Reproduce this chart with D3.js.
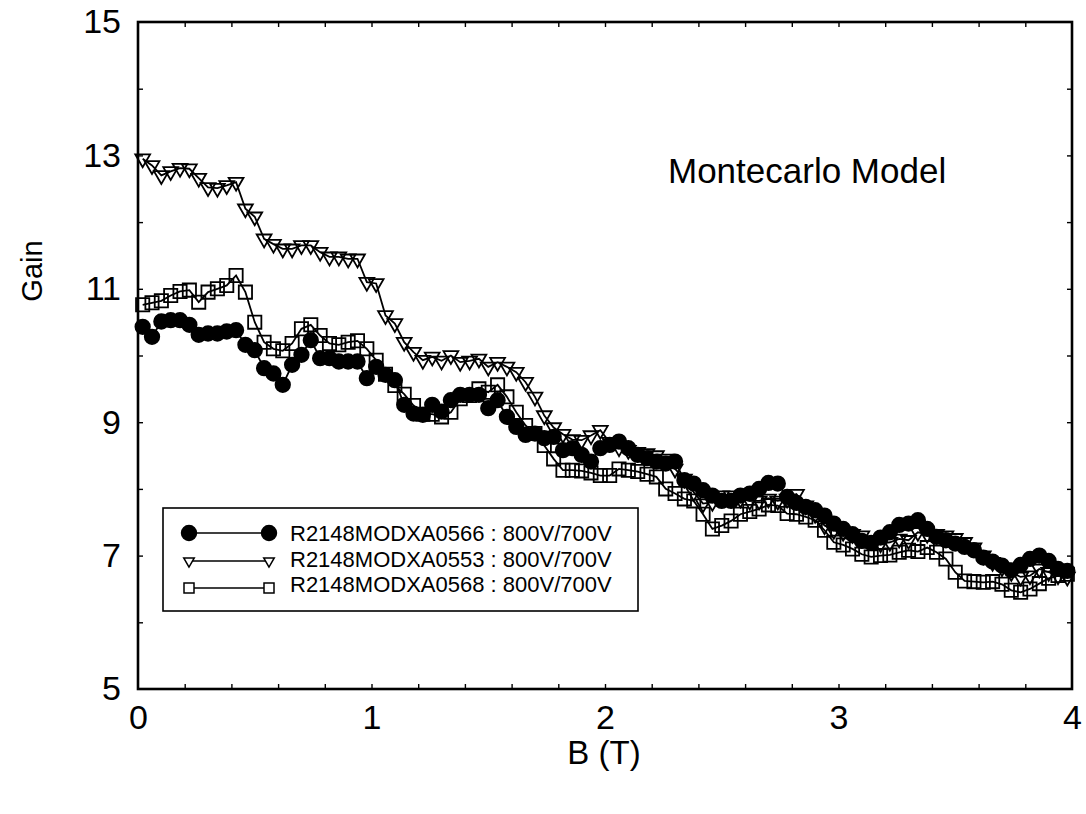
<!DOCTYPE html>
<html>
<head>
<meta charset="utf-8">
<script src="https://cdn.jsdelivr.net/npm/d3@7"></script>
<style>
  body { margin: 0; background: #fff; }
  svg { display: block; font-family: "Liberation Sans", Arial, sans-serif; }
</style>
</head>
<body>
<svg width="1086" height="814"></svg>
<script>
// magnetic field values (T), shared by all three tubes
var bField = [0.02,0.06,0.10,0.14,0.18,0.22,0.26,0.30,0.34,0.38,
  0.42,0.46,0.50,0.54,0.58,0.62,0.66,0.70,0.74,0.78,
  0.82,0.86,0.90,0.94,0.98,1.02,1.06,1.10,1.14,1.18,
  1.22,1.26,1.30,1.34,1.38,1.42,1.46,1.50,1.54,1.58,
  1.62,1.66,1.70,1.74,1.78,1.82,1.86,1.90,1.94,1.98,
  2.02,2.06,2.10,2.14,2.18,2.22,2.26,2.30,2.34,2.38,
  2.42,2.46,2.50,2.54,2.58,2.62,2.66,2.70,2.74,2.78,
  2.82,2.86,2.90,2.94,2.98,3.02,3.06,3.10,3.14,3.18,
  3.22,3.26,3.30,3.34,3.38,3.42,3.46,3.50,3.54,3.58,
  3.62,3.66,3.70,3.74,3.78,3.82,3.86,3.90,3.94,3.98];

// gain, tube 0566 (filled circles)
var gain0566 = [10.43,10.28,10.51,10.53,10.53,10.46,10.31,10.33,10.33,10.36,
  10.38,10.16,10.08,9.81,9.73,9.56,9.86,10.01,10.23,9.96,
  9.96,9.91,9.91,9.91,9.66,9.83,9.71,9.63,9.26,9.13,
  9.11,9.26,9.16,9.33,9.41,9.41,9.41,9.21,9.33,9.08,
  8.93,8.81,8.83,8.76,8.78,8.58,8.61,8.51,8.41,8.61,
  8.66,8.71,8.61,8.51,8.46,8.41,8.38,8.41,8.13,8.08,
  7.98,7.90,7.82,7.82,7.90,7.93,8.00,8.09,8.08,7.88,
  7.79,7.73,7.68,7.60,7.48,7.40,7.32,7.22,7.19,7.27,
  7.35,7.46,7.48,7.53,7.40,7.28,7.23,7.18,7.13,7.08,
  6.97,6.91,6.85,6.78,6.86,6.95,7.00,6.92,6.80,6.77];

// gain, tube 0553 (open down triangles)
var gain0553 = [12.95,12.85,12.70,12.76,12.81,12.80,12.66,12.52,12.51,12.55,
  12.60,12.20,12.08,11.75,11.67,11.60,11.60,11.65,11.65,11.55,
  11.48,11.48,11.45,11.45,11.10,11.08,10.60,10.48,10.20,10.05,
  9.93,9.98,9.92,10.00,9.90,9.92,9.95,9.83,9.90,9.83,
  9.75,9.60,9.38,9.10,8.92,8.82,8.74,8.73,8.80,8.88,
  8.70,8.62,8.58,8.55,8.53,8.50,8.45,8.30,8.15,7.95,
  7.78,7.80,7.90,7.90,7.85,7.82,7.82,7.85,7.82,7.85,
  7.92,7.75,7.62,7.45,7.38,7.35,7.32,7.30,7.22,7.18,
  7.20,7.25,7.23,7.35,7.32,7.32,7.30,7.26,7.20,7.12,
  7.00,6.90,6.82,6.75,6.68,6.70,6.80,6.75,6.70,6.68];

// gain, tube 0568 (open squares)
var gain0568 = [10.76,10.79,10.82,10.90,10.96,10.98,10.80,10.95,11.00,11.05,
  11.20,10.95,10.50,10.20,10.10,10.07,10.18,10.40,10.46,10.30,
  10.18,10.16,10.20,10.22,10.10,9.93,9.72,9.55,9.42,9.25,
  9.12,9.12,9.08,9.15,9.35,9.40,9.50,9.45,9.56,9.38,
  9.15,8.95,8.83,8.65,8.45,8.28,8.28,8.27,8.24,8.20,
  8.20,8.30,8.28,8.26,8.22,8.18,8.00,7.93,7.85,7.82,
  7.62,7.40,7.45,7.52,7.62,7.66,7.70,7.76,7.75,7.63,
  7.62,7.58,7.53,7.38,7.20,7.16,7.10,7.02,6.98,7.00,
  7.01,7.05,7.08,7.06,7.12,7.05,6.95,6.75,6.62,6.61,
  6.60,6.61,6.57,6.48,6.45,6.50,6.58,6.66,6.70,6.72];

var seriesNames = ["R2148MODXA0566 : 800V/700V",
                   "R2148MODXA0553 : 800V/700V",
                   "R2148MODXA0568 : 800V/700V"];
var xTickLabels = [0, 1, 2, 3, 4];
var yTickLabels = [5, 7, 9, 11, 13, 15];
var xMinorTicks = [0.2,0.4,0.6,0.8,1,1.2,1.4,1.6,1.8,2,2.2,2.4,2.6,2.8,3,3.2,3.4,3.6,3.8];
var yMinorTicks = [6,7,8,9,10,11,12,13,14];

var svg = d3.select("svg");
var x = d3.scaleLinear().domain([0, 4]).range([138, 1072]);
var y = d3.scaleLinear().domain([5, 15]).range([689, 22]);

var series = [
  {name: seriesNames[0], values: gain0566, shape: "circle"},
  {name: seriesNames[1], values: gain0553, shape: "triangle"},
  {name: seriesNames[2], values: gain0568, shape: "square"}
];

// marker path builders
function markerPath(shape, big) {
  if (shape == "circle") return d3.symbol().type(d3.symbolCircle).size(big ? 165 : 175)();
  if (shape == "triangle") return d3.symbol().type(d3.symbolTriangle).size(big ? 95 : 48)();
  return d3.symbol().type(d3.symbolSquare).size(big ? 175 : 100)();
}
function markerRot(shape) { return shape == "triangle" ? " rotate(180)" : ""; }

var line = d3.line()
  .x(function(d) { return x(d[0]); })
  .y(function(d) { return y(d[1]); });

// lines and markers
series.forEach(function(s) {
  var pts = bField.map(function(b, i) { return [b, s.values[i]]; });
  svg.append("path")
    .datum(pts)
    .attr("d", line)
    .attr("fill", "none")
    .attr("stroke", "#000")
    .attr("stroke-width", 1.8);

  svg.append("g").selectAll("path")
    .data(pts)
    .enter()
    .append("path")
      .attr("d", markerPath(s.shape, true))
      .attr("transform", function(d) { return "translate(" + x(d[0]) + "," + y(d[1]) + ")" + markerRot(s.shape); })
      .attr("fill", s.shape == "circle" ? "#000" : "none")
      .attr("stroke", "#000")
      .attr("stroke-width", 1.8);
});

// frame
svg.append("rect")
  .attr("x", x(0)).attr("y", y(15))
  .attr("width", x(4) - x(0)).attr("height", y(5) - y(15))
  .attr("fill", "none").attr("stroke", "#000").attr("stroke-width", 2.6);

// inward ticks on all four sides
function tickStyle(g) {
  g.select(".domain").remove();
  g.selectAll(".tick line").attr("stroke", "#000").attr("stroke-width", 1.4);
}
svg.append("g").attr("transform", "translate(0," + y(5) + ")")
  .call(d3.axisBottom(x).tickValues(xMinorTicks).tickSize(-5).tickFormat("")).call(tickStyle);
svg.append("g").attr("transform", "translate(0," + y(15) + ")")
  .call(d3.axisTop(x).tickValues(xMinorTicks).tickSize(-5).tickFormat("")).call(tickStyle);
svg.append("g").attr("transform", "translate(" + x(0) + ",0)")
  .call(d3.axisLeft(y).tickValues(yMinorTicks).tickSize(-5).tickFormat("")).call(tickStyle);
svg.append("g").attr("transform", "translate(" + x(4) + ",0)")
  .call(d3.axisRight(y).tickValues(yMinorTicks).tickSize(-5).tickFormat("")).call(tickStyle);

// tick labels
var xl = svg.append("g").attr("transform", "translate(0," + y(5) + ")")
  .call(d3.axisBottom(x).tickValues(xTickLabels).tickSize(0).tickPadding(16).tickFormat(d3.format("d")));
xl.select(".domain").remove();
xl.selectAll("text").attr("font-size", 34).attr("font-family", "Liberation Sans, Arial, sans-serif").attr("fill", "#000");

var yl = svg.append("g").attr("transform", "translate(" + x(0) + ",0)")
  .call(d3.axisLeft(y).tickValues(yTickLabels).tickSize(0).tickPadding(17).tickFormat(d3.format("d")));
yl.select(".domain").remove();
yl.selectAll("text").attr("font-size", 34).attr("font-family", "Liberation Sans, Arial, sans-serif").attr("fill", "#000");

// axis titles
svg.append("text")
  .attr("x", 604).attr("y", 764)
  .attr("text-anchor", "middle").attr("font-size", 33)
  .text("B (T)");
svg.append("text")
  .attr("transform", "translate(42,271) rotate(-90)")
  .attr("text-anchor", "middle").attr("font-size", 29)
  .text("Gain");

// annotation
svg.append("text")
  .attr("x", 668).attr("y", 183)
  .attr("font-size", 35)
  .text("Montecarlo Model");

// legend
var legend = svg.append("g");
legend.append("rect")
  .attr("x", 163).attr("y", 508).attr("width", 475).attr("height", 103)
  .attr("fill", "#fff").attr("stroke", "#000").attr("stroke-width", 1.6);

var rowY = [533, 561, 588];
var textY = [540.5, 567, 592];
series.forEach(function(s, i) {
  legend.append("line")
    .attr("x1", 189).attr("x2", 269).attr("y1", rowY[i]).attr("y2", rowY[i])
    .attr("stroke", "#000").attr("stroke-width", 1.5);
  [189, 269].forEach(function(mx) {
    legend.append("path")
      .attr("d", markerPath(s.shape, false))
      .attr("transform", "translate(" + mx + "," + rowY[i] + ")" + markerRot(s.shape))
      .attr("fill", s.shape == "circle" ? "#000" : "#fff")
      .attr("stroke", "#000").attr("stroke-width", 1.5);
  });
  legend.append("text")
    .attr("x", 290).attr("y", textY[i])
    .attr("font-size", 22)
    .text(s.name);
});
</script>
</body>
</html>
